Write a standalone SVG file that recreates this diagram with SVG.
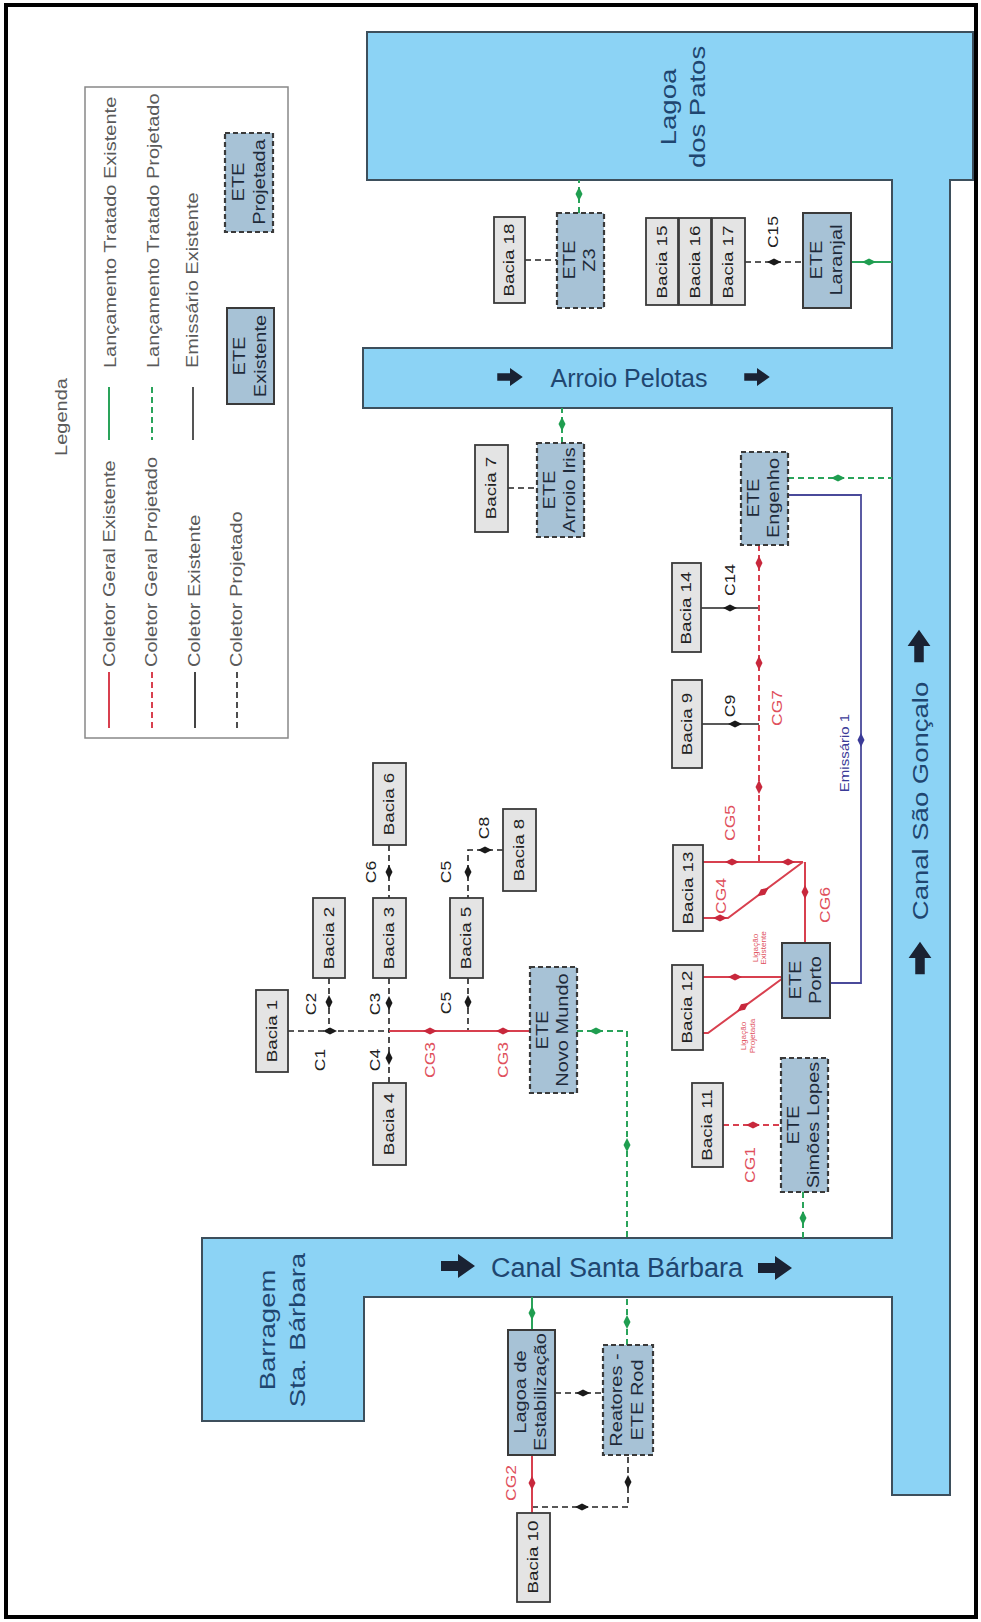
<svg xmlns="http://www.w3.org/2000/svg" xmlns:xlink="http://www.w3.org/1999/xlink" width="981" height="1622" viewBox="0 0 981 1622">
<style>
text{font-family:"Liberation Sans",Arial,sans-serif;}
.t{text-anchor:middle;dominant-baseline:central;}
.s{text-anchor:start;dominant-baseline:central;}
.bx{fill:#e4e4e4;stroke:#3a3a3a;stroke-width:1.8;}
.ete{fill:#a7c2d6;stroke:#3a3a3a;stroke-width:2;}
.etp{fill:#a7c2d6;stroke:#3a3a3a;stroke-width:2.2;stroke-dasharray:5 3;}
.bt{font-size:15px;fill:#222;}
.et{font-size:16px;fill:#1e2a3a;}
.lb{font-size:14px;fill:#222;}
.rl{font-size:14px;fill:#e0505c;}
.lg{font-size:16px;fill:#5a5a5a;}
.wt{fill:#1f4670;}
.kd{fill:none;stroke:#222;stroke-width:1.6;stroke-dasharray:6 4;}
.ks{fill:none;stroke:#222;stroke-width:1.6;}
.rs{fill:none;stroke:#d8404f;stroke-width:2;}
.rd{fill:none;stroke:#d8404f;stroke-width:2;stroke-dasharray:6 4;}
.gs{fill:none;stroke:#2aa35a;stroke-width:2;}
.gd{fill:none;stroke:#2aa35a;stroke-width:2;stroke-dasharray:6 4;}
.em{fill:none;stroke:#4a4a9a;stroke-width:1.8;}
.mk{fill:#1a1a1a;}
.mr{fill:#c8283c;}
.mg{fill:#1f9e50;}
.mb{fill:#3b3b98;}
.ar{fill:#1a2233;}
</style>
<defs>
<path id="mv" d="M0,-7 L3.5,0 L0,7 L-3.5,0Z"/>
<path id="mh" d="M-7,0 L0,-3.5 L7,0 L0,3.5Z"/>
<path id="arr" d="M-17,-5 H0 V-12 L17,0 L0,12 V5 H-17 Z"/>
</defs>
<rect x="0" y="0" width="981" height="1622" fill="#ffffff"/>
<rect x="6" y="5" width="970" height="1612" fill="none" stroke="#000" stroke-width="4"/>

<g id="water">
<path d="M367,32 H973 V180 H950 V1495 H892 V1297 H364 V1421 H202 V1238 H892 V408 H363 V348 H892 V180 H367 Z" fill="#8cd3f5" stroke="#3d4f5c" stroke-width="2"/>
<text class="t wt" font-size="22" transform="translate(668,107) rotate(-90) scale(1.25,1)">Lagoa</text>
<text class="t wt" font-size="22" transform="translate(697,107) rotate(-90) scale(1.25,1)">dos Patos</text>
<text class="t wt" font-size="22" transform="translate(267,1330) rotate(-90) scale(1.25,1)">Barragem</text>
<text class="t wt" font-size="22" transform="translate(297,1330) rotate(-90) scale(1.25,1)">Sta. Bárbara</text>
<text class="t wt" font-size="22" transform="translate(920,801) rotate(-90) scale(1.25,1)">Canal São Gonçalo</text>
<text class="t wt" font-size="25" x="629" y="378">Arroio Pelotas</text>
<text class="t wt" font-size="27" x="617" y="1268">Canal Santa Bárbara</text>
<use href="#arr" class="ar" transform="translate(510,377) scale(0.75)"/>
<use href="#arr" class="ar" transform="translate(757,377) scale(0.75)"/>
<use href="#arr" class="ar" transform="translate(458,1266)"/>
<use href="#arr" class="ar" transform="translate(775,1268)"/>
<use href="#arr" class="ar" transform="translate(920,958) rotate(-90) scale(0.95)"/>
<use href="#arr" class="ar" transform="translate(919,646) rotate(-90) scale(0.95)"/>
</g>

<g id="legend">
<text class="t lg" transform="translate(62,417) rotate(-90) scale(1.25,1)">Legenda</text>
<rect x="85" y="87" width="203" height="651" fill="#fff" stroke="#888" stroke-width="1.5"/>
<text class="s lg" transform="translate(111,368) rotate(-90) scale(1.25,1)">Lançamento Tratado Existente</text>
<text class="s lg" transform="translate(154,368) rotate(-90) scale(1.25,1)">Lançamento Tratado Projetado</text>
<text class="s lg" transform="translate(193,368) rotate(-90) scale(1.25,1)">Emissário Existente</text>
<text class="s lg" transform="translate(110,667) rotate(-90) scale(1.25,1)">Coletor Geral Existente</text>
<text class="s lg" transform="translate(152,667) rotate(-90) scale(1.25,1)">Coletor Geral Projetado</text>
<text class="s lg" transform="translate(195,667) rotate(-90) scale(1.25,1)">Coletor Existente</text>
<text class="s lg" transform="translate(237,667) rotate(-90) scale(1.25,1)">Coletor Projetado</text>
<path class="gs" d="M109,387 V440"/>
<path class="gd" d="M152,387 V440"/>
<path d="M193,387 V440" stroke="#555" stroke-width="2" fill="none"/>
<path class="rs" d="M109,672 V728"/>
<path class="rd" d="M152,672 V728"/>
<path d="M195,672 V728" stroke="#444" stroke-width="2" fill="none"/>
<path class="kd" d="M237,672 V728"/>
<rect class="etp" x="225" y="133" width="48" height="99"/>
<text class="t et" transform="translate(239,182) rotate(-90) scale(1.25,1)">ETE</text>
<text class="t et" transform="translate(260,182) rotate(-90) scale(1.25,1)">Projetada</text>
<rect class="ete" x="227" y="308" width="47" height="96"/>
<text class="t et" transform="translate(240,356) rotate(-90) scale(1.25,1)">ETE</text>
<text class="t et" transform="translate(261,356) rotate(-90) scale(1.25,1)">Existente</text>
</g>

<g id="connectors">
<!-- black dashed (coletor projetado) -->
<path class="kd" d="M288,1031 H389"/>
<path class="kd" d="M329,978 V1031"/>
<path class="kd" d="M389,978 V1031"/>
<path class="kd" d="M389,1083 V1031"/>
<path class="kd" d="M389,845 V898"/>
<path class="kd" d="M468,978 V1031"/>
<path class="kd" d="M503,850 H468 V898"/>
<path class="kd" d="M508,488 H537"/>
<path class="kd" d="M525,260 H557"/>
<path class="kd" d="M745,262 H803"/>
<path class="kd" d="M555,1393 H603"/>
<path class="kd" d="M532,1507 H628 V1455"/>
<use href="#mh" class="mk" x="330" y="1031"/>
<use href="#mv" class="mk" x="329" y="1002"/>
<use href="#mv" class="mk" x="389" y="1003"/>
<use href="#mv" class="mk" x="389" y="1058"/>
<use href="#mv" class="mk" x="389" y="872"/>
<use href="#mv" class="mk" x="468" y="1002"/>
<use href="#mv" class="mk" x="468" y="872"/>
<use href="#mh" class="mk" x="485" y="850"/>
<use href="#mh" class="mk" x="774" y="262"/>
<use href="#mh" class="mk" x="583" y="1393"/>
<use href="#mh" class="mk" x="582" y="1507"/>
<use href="#mv" class="mk" x="628" y="1482"/>
<!-- black solid (coletor existente) -->
<path class="ks" d="M701,608 H759"/>
<path class="ks" d="M702,724 H759"/>
<use href="#mh" class="mk" x="730" y="608"/>
<use href="#mh" class="mk" x="735" y="724"/>
<!-- red solid (coletor geral existente) -->
<path class="rs" d="M389,1031 H530"/>
<path class="rs" d="M703,862 H803"/>
<path class="rs" d="M703,918 H728 L803,862"/>
<path class="rs" d="M805,943 V862"/>
<path class="rs" d="M703,977 H782"/>
<path class="rs" d="M703,1033 H708 L783,978"/>
<path class="rs" d="M532,1513 V1455"/>
<use href="#mh" class="mr" x="430" y="1031"/>
<use href="#mh" class="mr" x="503" y="1031"/>
<use href="#mh" class="mr" x="732" y="862"/>
<use href="#mh" class="mr" x="788" y="862"/>
<use href="#mh" class="mr" x="720" y="918"/>
<use href="#mh" class="mr" transform="translate(763,892) rotate(-36.7)"/>
<use href="#mv" class="mr" x="805" y="892"/>
<use href="#mh" class="mr" x="735" y="977"/>
<use href="#mh" class="mr" transform="translate(743,1007) rotate(-36.3)"/>
<use href="#mv" class="mr" x="532" y="1483"/>
<!-- red dashed (coletor geral projetado) -->
<path class="rd" d="M759,545 V862"/>
<path class="rd" d="M723,1125 H781"/>
<use href="#mv" class="mr" x="759" y="563"/>
<use href="#mv" class="mr" x="759" y="663"/>
<use href="#mv" class="mr" x="759" y="787"/>
<use href="#mh" class="mr" x="753" y="1125"/>
<!-- green solid (lançamento existente) -->
<path class="gs" d="M851,262 H892"/>
<path class="gs" d="M532,1330 V1297"/>
<use href="#mh" class="mg" x="869" y="262"/>
<use href="#mv" class="mg" x="532" y="1313"/>
<!-- green dashed (lançamento projetado) -->
<path class="gd" d="M579,213 V180"/>
<path class="gd" d="M562,443 V408"/>
<path class="gd" d="M788,478 H892"/>
<path class="gd" d="M577,1031 H627 V1238"/>
<path class="gd" d="M627,1345 V1297"/>
<path class="gd" d="M803,1192 V1238"/>
<use href="#mv" class="mg" x="579" y="194"/>
<use href="#mv" class="mg" x="562" y="424"/>
<use href="#mh" class="mg" x="838" y="478"/>
<use href="#mh" class="mg" x="596" y="1031"/>
<use href="#mv" class="mg" x="627" y="1145"/>
<use href="#mv" class="mg" x="627" y="1322"/>
<use href="#mv" class="mg" x="803" y="1218"/>
<!-- emissário -->
<path class="em" d="M788,495 H861 V983 H830"/>
<use href="#mv" class="mb" x="861" y="740"/>
<!-- labels -->
<text class="t lb" transform="translate(320,1060) rotate(-90) scale(1.25,1)">C1</text>
<text class="t lb" transform="translate(311,1004) rotate(-90) scale(1.25,1)">C2</text>
<text class="t lb" transform="translate(375,1004) rotate(-90) scale(1.25,1)">C3</text>
<text class="t lb" transform="translate(375,1060) rotate(-90) scale(1.25,1)">C4</text>
<text class="t lb" transform="translate(371,872) rotate(-90) scale(1.25,1)">C6</text>
<text class="t lb" transform="translate(446,1003) rotate(-90) scale(1.25,1)">C5</text>
<text class="t lb" transform="translate(446,872) rotate(-90) scale(1.25,1)">C5</text>
<text class="t lb" transform="translate(484,828) rotate(-90) scale(1.25,1)">C8</text>
<text class="t lb" transform="translate(730,580) rotate(-90) scale(1.25,1)">C14</text>
<text class="t lb" transform="translate(730,706) rotate(-90) scale(1.25,1)">C9</text>
<text class="t lb" transform="translate(773,232) rotate(-90) scale(1.25,1)">C15</text>
<text class="t rl" transform="translate(430,1060) rotate(-90) scale(1.25,1)">CG3</text>
<text class="t rl" transform="translate(503,1060) rotate(-90) scale(1.25,1)">CG3</text>
<text class="t rl" transform="translate(730,823) rotate(-90) scale(1.25,1)">CG5</text>
<text class="t rl" transform="translate(721,896) rotate(-90) scale(1.25,1)">CG4</text>
<text class="t rl" transform="translate(825,905) rotate(-90) scale(1.25,1)">CG6</text>
<text class="t rl" transform="translate(777,708) rotate(-90) scale(1.25,1)">CG7</text>
<text class="t rl" transform="translate(750,1165) rotate(-90) scale(1.25,1)">CG1</text>
<text class="t rl" transform="translate(511,1483) rotate(-90) scale(1.25,1)">CG2</text>
<text class="t" font-size="6.5" fill="#e0505c" transform="translate(756,948) rotate(-90) scale(1.25,1)">Ligação</text>
<text class="t" font-size="6.5" fill="#e0505c" transform="translate(764,948) rotate(-90) scale(1.25,1)">Existente</text>
<text class="t" font-size="6.5" fill="#e0505c" transform="translate(744,1036) rotate(-90) scale(1.25,1)">Ligação</text>
<text class="t" font-size="6.5" fill="#e0505c" transform="translate(753,1036) rotate(-90) scale(1.25,1)">Projetada</text>
<text class="t" font-size="12" fill="#3b3b98" transform="translate(845,753) rotate(-90) scale(1.25,1)">Emissário 1</text>
</g>

<g id="bacia1"><rect class="bx" x="256" y="990" width="32" height="82"/><text class="t bt" transform="translate(272,1031) rotate(-90) scale(1.25,1)">Bacia 1</text></g>
<g id="bacia2"><rect class="bx" x="313" y="898" width="32" height="80"/><text class="t bt" transform="translate(329,938) rotate(-90) scale(1.25,1)">Bacia 2</text></g>
<g id="bacia3"><rect class="bx" x="373" y="898" width="33" height="80"/><text class="t bt" transform="translate(389.5,938) rotate(-90) scale(1.25,1)">Bacia 3</text></g>
<g id="bacia4"><rect class="bx" x="373" y="1083" width="33" height="82"/><text class="t bt" transform="translate(389.5,1124) rotate(-90) scale(1.25,1)">Bacia 4</text></g>
<g id="bacia5"><rect class="bx" x="450" y="898" width="33" height="80"/><text class="t bt" transform="translate(466.5,938) rotate(-90) scale(1.25,1)">Bacia 5</text></g>
<g id="bacia6"><rect class="bx" x="373" y="763" width="33" height="82"/><text class="t bt" transform="translate(389.5,804) rotate(-90) scale(1.25,1)">Bacia 6</text></g>
<g id="bacia7"><rect class="bx" x="475" y="445" width="33" height="87"/><text class="t bt" transform="translate(491.5,488) rotate(-90) scale(1.25,1)">Bacia 7</text></g>
<g id="bacia8"><rect class="bx" x="503" y="809" width="33" height="82"/><text class="t bt" transform="translate(519.5,850) rotate(-90) scale(1.25,1)">Bacia 8</text></g>
<g id="bacia9"><rect class="bx" x="672" y="680" width="30" height="88"/><text class="t bt" transform="translate(687,724) rotate(-90) scale(1.25,1)">Bacia 9</text></g>
<g id="bacia10"><rect class="bx" x="517" y="1513" width="33" height="89"/><text class="t bt" transform="translate(533.5,1557) rotate(-90) scale(1.25,1)">Bacia 10</text></g>
<g id="bacia11"><rect class="bx" x="692" y="1083" width="31" height="84"/><text class="t bt" transform="translate(707.5,1125) rotate(-90) scale(1.25,1)">Bacia 11</text></g>
<g id="bacia12"><rect class="bx" x="672" y="965" width="31" height="85"/><text class="t bt" transform="translate(687.5,1007) rotate(-90) scale(1.25,1)">Bacia 12</text></g>
<g id="bacia13"><rect class="bx" x="673" y="845" width="30" height="86"/><text class="t bt" transform="translate(688,888) rotate(-90) scale(1.25,1)">Bacia 13</text></g>
<g id="bacia14"><rect class="bx" x="672" y="563" width="29" height="89"/><text class="t bt" transform="translate(686.5,608) rotate(-90) scale(1.25,1)">Bacia 14</text></g>
<g id="bacia15"><rect class="bx" x="646" y="218" width="32" height="87"/><text class="t bt" transform="translate(662,262) rotate(-90) scale(1.25,1)">Bacia 15</text></g>
<g id="bacia16"><rect class="bx" x="679" y="218" width="32" height="87"/><text class="t bt" transform="translate(695,262) rotate(-90) scale(1.25,1)">Bacia 16</text></g>
<g id="bacia17"><rect class="bx" x="712" y="218" width="33" height="87"/><text class="t bt" transform="translate(728.5,262) rotate(-90) scale(1.25,1)">Bacia 17</text></g>
<g id="bacia18"><rect class="bx" x="494" y="217" width="31" height="86"/><text class="t bt" transform="translate(509.5,260) rotate(-90) scale(1.25,1)">Bacia 18</text></g>

<g id="ete-z3"><rect class="etp" x="557" y="213" width="47" height="95"/><text class="t et" transform="translate(570,260) rotate(-90) scale(1.25,1)">ETE</text><text class="t et" transform="translate(590,260) rotate(-90) scale(1.25,1)">Z3</text></g>
<g id="ete-laranjal"><rect class="ete" x="803" y="213" width="48" height="95"/><text class="t et" transform="translate(817,260) rotate(-90) scale(1.25,1)">ETE</text><text class="t et" transform="translate(837,260) rotate(-90) scale(1.25,1)">Laranjal</text></g>
<g id="ete-arroio-iris"><rect class="etp" x="537" y="443" width="47" height="94"/><text class="t et" transform="translate(550,490) rotate(-90) scale(1.25,1)">ETE</text><text class="t et" transform="translate(570,490) rotate(-90) scale(1.25,1)">Arroio Iris</text></g>
<g id="ete-engenho"><rect class="etp" x="741" y="452" width="47" height="93"/><text class="t et" transform="translate(754,498) rotate(-90) scale(1.25,1)">ETE</text><text class="t et" transform="translate(774,498) rotate(-90) scale(1.25,1)">Engenho</text></g>
<g id="ete-novo-mundo"><rect class="etp" x="530" y="967" width="47" height="126"/><text class="t et" transform="translate(543,1030) rotate(-90) scale(1.25,1)">ETE</text><text class="t et" transform="translate(563,1030) rotate(-90) scale(1.25,1)">Novo Mundo</text></g>
<g id="ete-porto"><rect class="ete" x="782" y="943" width="48" height="75"/><text class="t et" transform="translate(796,980) rotate(-90) scale(1.25,1)">ETE</text><text class="t et" transform="translate(816,980) rotate(-90) scale(1.25,1)">Porto</text></g>
<g id="ete-simoes-lopes"><rect class="etp" x="781" y="1058" width="47" height="134"/><text class="t et" transform="translate(794,1125) rotate(-90) scale(1.25,1)">ETE</text><text class="t et" transform="translate(814,1125) rotate(-90) scale(1.25,1)">Simões Lopes</text></g>
<g id="lagoa-estabilizacao"><rect class="ete" x="508" y="1330" width="47" height="125"/><text class="t et" transform="translate(521,1392) rotate(-90) scale(1.25,1)">Lagoa de</text><text class="t et" transform="translate(541,1392) rotate(-90) scale(1.25,1)">Estabilização</text></g>
<g id="reatores-ete-rod"><rect class="etp" x="603" y="1345" width="50" height="110"/><text class="t et" transform="translate(617,1400) rotate(-90) scale(1.25,1)">Reatores -</text><text class="t et" transform="translate(638,1400) rotate(-90) scale(1.25,1)">ETE Rod</text></g>
</svg>
